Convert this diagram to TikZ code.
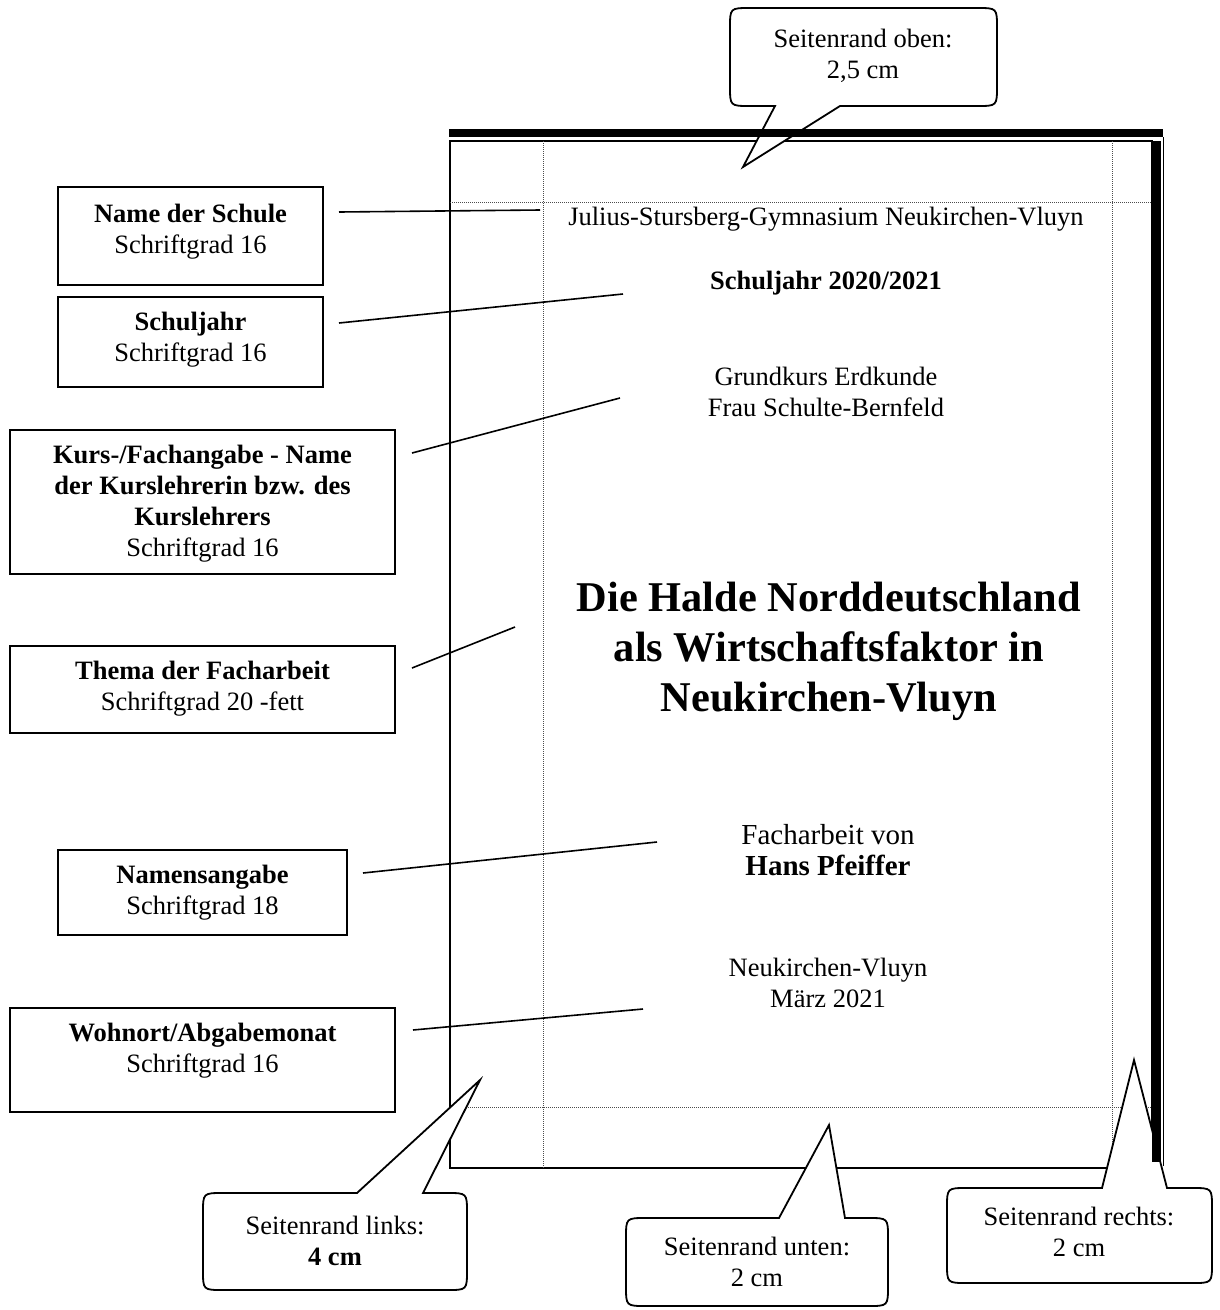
\documentclass[tikz,border=0pt]{standalone}
\usepackage{fontspec}
\setmainfont{Liberation Serif}
\newcommand\myCalloutUp[8]{%
  \draw[callout] (#5,#2) -- (#7,#8) -- (#6,#2) -- (#3-20,#2) .. controls (#3,#2) .. (#3,#2+20)
    -- (#3,#4-20) .. controls (#3,#4) .. (#3-20,#4) -- (#1+20,#4) .. controls (#1,#4) .. (#1,#4-20)
    -- (#1,#2+20) .. controls (#1,#2) .. (#1+20,#2) -- cycle;}
\newcommand\myCalloutDown[8]{%
  \draw[callout] (#5,#4) -- (#7,#8) -- (#6,#4) -- (#3-20,#4) .. controls (#3,#4) .. (#3,#4-20)
    -- (#3,#2+20) .. controls (#3,#2) .. (#3-20,#2) -- (#1+20,#2) .. controls (#1,#2) .. (#1,#2+20)
    -- (#1,#4-20) .. controls (#1,#4) .. (#1+20,#4) -- cycle;}
\begin{document}
\begin{tikzpicture}[x=1pt,y=-1pt,
  lbox/.style={draw, line width=1.8pt, inner sep=0pt},
  txt/.style={inner sep=0pt, align=center, font=\fontsize{26.5}{31}\selectfont},
  bigtxt/.style={inner sep=0pt, align=center, font=\fontsize{29}{31}\selectfont},
  titletxt/.style={inner sep=0pt, align=center, font=\fontsize{42.4}{50}\selectfont\bfseries},
  leader/.style={line width=1.6pt},
  callout/.style={line width=1.8pt, fill=white, line join=miter},
  margin/.style={line width=0.8pt, black!70, dash pattern=on 1pt off 1pt}]
\useasboundingbox (0,0) rectangle (1219,1310);

% page
\draw[line width=1.6pt] (450,141) rectangle (1152,1168);
\draw[margin] (543,141) -- (543,1168);
\draw[margin] (1112,141) -- (1112,1168);
\draw[margin] (450,202) -- (1152,202);
\draw[margin] (450,1107) -- (1152,1107);

% left boxes
\node[lbox, minimum width=265, minimum height=98] (b1) at (190.5,236) {};
\node[txt] (t1) at (190.5,231.5) {\textbf{Name der Schule}\\Schriftgrad 16};
\node[lbox, minimum width=265, minimum height=90] (b2) at (190.5,342) {};
\node[txt] (t2) at (190.5,340) {\textbf{Schuljahr}\\Schriftgrad 16};
\node[lbox, minimum width=385, minimum height=144] (b3) at (202.5,502) {};
\node[txt] (t3) at (202.5,504) {\textbf{Kurs-/Fachangabe - Name}\\\textbf{der Kurslehrerin bzw. des}\\\textbf{Kurslehrers}\\Schriftgrad 16};
\node[lbox, minimum width=385, minimum height=87] (b4) at (202.5,689.5) {};
\node[txt] (t4) at (202.5,689) {\textbf{Thema der Facharbeit}\\Schriftgrad 20 -fett};
\node[lbox, minimum width=289, minimum height=85] (b5) at (202.5,892.5) {};
\node[txt] (t5) at (202.5,892.5) {\textbf{Namensangabe}\\Schriftgrad 18};
\node[lbox, minimum width=385, minimum height=104] (b6) at (202.5,1060) {};
\node[txt] (t6) at (202.5,1051) {\textbf{Wohnort/Abgabemonat}\\Schriftgrad 16};

% page texts
\node[txt] (p1) at (826,219) {Julius-Stursberg-Gymnasium Neukirchen-Vluyn};
\node[txt] (p2) at (826,283) {\textbf{Schuljahr 2020/2021}};
\node[txt] (p3) at (826,391.5) {Grundkurs Erdkunde\\Frau Schulte-Bernfeld};
\node[titletxt] (p4) at (829,651) {Die Halde Norddeutschland\\als Wirtschaftsfaktor in\\Neukirchen-Vluyn};
\node[bigtxt] (p5) at (828,850.5) {Facharbeit von\\\textbf{Hans Pfeiffer}};
\node[txt] (p6) at (828,982.5) {Neukirchen-Vluyn\\März 2021};

% leader lines
\coordinate (s1) at (339,212); \coordinate (e1) at (540,210);
\coordinate (s2) at (339,323); \coordinate (e2) at (623,294);
\coordinate (s3) at (412,453); \coordinate (e3) at (620,398);
\coordinate (s4) at (412,668); \coordinate (e4) at (515,627);
\coordinate (s5) at (363,873); \coordinate (e5) at (657,842);
\coordinate (s6) at (413,1030); \coordinate (e6) at (643,1009);
\foreach \i in {1,...,6} \draw[leader] (s\i) -- (e\i);

% callouts
\myCalloutDown{730}{8}{997}{106}{775}{840}{743}{167}
\node[txt] (c1) at (863,56) {Seitenrand oben:\\2,5 cm};
\myCalloutUp{203}{1193}{467}{1290}{357}{423}{480}{1080}
\node[txt] (c2) at (335,1241) {Seitenrand links:\\\textbf{4 cm}};
\myCalloutUp{626}{1218}{888}{1306}{779}{845}{829}{1125}
\node[txt] (c3) at (757,1262) {Seitenrand unten:\\2 cm};
\myCalloutUp{947}{1188}{1212}{1283}{1102}{1167}{1134}{1060}
\node[txt] (c4) at (1079,1232) {Seitenrand rechts:\\2 cm};

% page shadow
\fill (449,129) rectangle (1163,137);
\fill (1152,141) rectangle (1161,1162);
\draw[line width=1pt] (1163,137) -- (1163,1166);
\end{tikzpicture}
\end{document}
